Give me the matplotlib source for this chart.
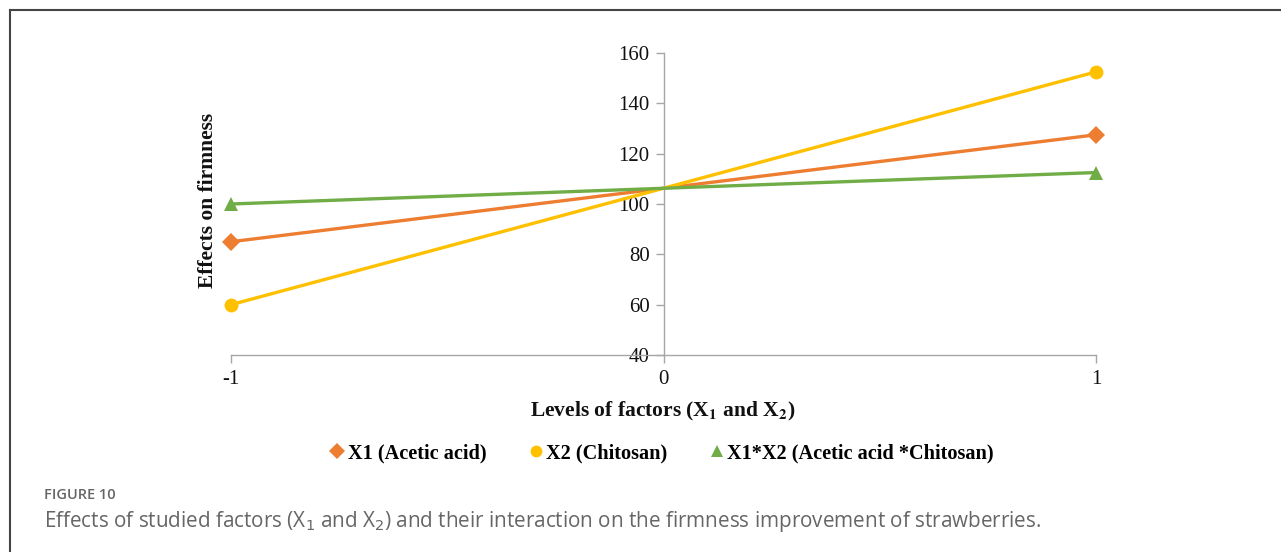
import matplotlib
matplotlib.use("Agg")
import matplotlib.pyplot as plt
from matplotlib.lines import Line2D

# Coded factor levels and predicted firmness effects
LEVELS = [-1, 0, 1]
X1_ACETIC = [85.0, 106.25, 127.5]
X2_CHITOSAN = [60.0, 106.25, 152.5]
X1X2_INTERACTION = [100.0, 106.25, 112.5]

SERIES = [
    (X1_ACETIC, "X1 (Acetic acid)", "#ED7D31", "D", 9),
    (X2_CHITOSAN, "X2 (Chitosan)", "#FFC000", "o", 10),
    (X1X2_INTERACTION, "X1*X2 (Acetic acid *Chitosan)", "#70AD47", "^", 10),
]

SERIF = ["Liberation Serif", "DejaVu Serif"]
AXIS_GREY = "#A6A6A6"

fig = plt.figure(figsize=(12.81, 5.52), dpi=100)
ax = fig.add_axes([231 / 1281, 1 - 355 / 552, 865 / 1281, 302 / 552])

# markers only at the two ends of each line
for vals, label, color, marker, ms in SERIES:
    ax.plot(LEVELS, vals, color=color, lw=2.4, marker=marker, ms=ms,
            markevery=[0, len(vals) - 1], markeredgewidth=0, label=label,
            clip_on=False, zorder=3)

ax.set_xlim(-1, 1)
ax.set_ylim(40, 160)
ax.set_xticks(LEVELS)
ax.set_xticklabels(["-1", "0", "1"])
ax.set_yticks(range(40, 161, 20))

# y axis crosses at level 0, x axis at the bottom
ax.spines["left"].set_position(("data", 0))
ax.spines[["top", "right"]].set_visible(False)
for side in ("left", "bottom"):
    ax.spines[side].set_color(AXIS_GREY)
    ax.spines[side].set_linewidth(1.0)
ax.tick_params(axis="both", color=AXIS_GREY, length=6, width=1.0,
               labelsize=15, labelcolor="#111111")
ax.tick_params(axis="x", pad=5)
ax.tick_params(axis="y", pad=4)
for lbl in ax.get_xticklabels() + ax.get_yticklabels():
    lbl.set_family(SERIF)

fig.text(208 / 1281, 1 - 200 / 552, "Effects on firmness", rotation=90,
         ha="center", va="center", family=SERIF, fontweight="bold",
         fontsize=15.5, color="#111111")
fig.text(663 / 1281, 1 - 411 / 552,
         r"Levels of factors (X$_\mathbf{1}$ and X$_\mathbf{2}$)",
         ha="center", va="center", family=SERIF, fontweight="bold",
         fontsize=15.5, color="#111111", math_fontfamily="stix")

handles = [Line2D([], [], ls="none", marker=m, color=c, ms=ms * 0.85,
                  markeredgewidth=0, label=lab)
           for _, lab, c, m, ms in SERIES]
fig.legend(handles=handles, loc="center", ncol=3,
           bbox_to_anchor=(663 / 1281, 1 - 453 / 552), frameon=False,
           handlelength=0.5, handletextpad=0.25, columnspacing=2.2,
           prop={"family": SERIF, "weight": "bold", "size": 14.6})

# caption block
fig.text(44 / 1281, 1 - 495 / 552, "FIGURE 10", ha="left", va="center",
         family="Open Sans", fontweight="semibold", fontsize=10.5,
         color="#666666")
fig.text(44 / 1281, 1 - 521 / 552,
         r"Effects of studied factors (X$_1$ and X$_2$) and their interaction "
         r"on the firmness improvement of strawberries.",
         ha="left", va="center", family="Open Sans", fontsize=14.9,
         color="#666666", math_fontfamily="dejavusans")

# page frame: top and left rules
fig.add_artist(Line2D([10 / 1281, 1], [1 - 10 / 552, 1 - 10 / 552],
                      transform=fig.transFigure, color="#444444", lw=1.5))
fig.add_artist(Line2D([10 / 1281, 10 / 1281], [1 - 10 / 552, 0],
                      transform=fig.transFigure, color="#444444", lw=1.5))

fig.savefig("out.png", dpi=100)
